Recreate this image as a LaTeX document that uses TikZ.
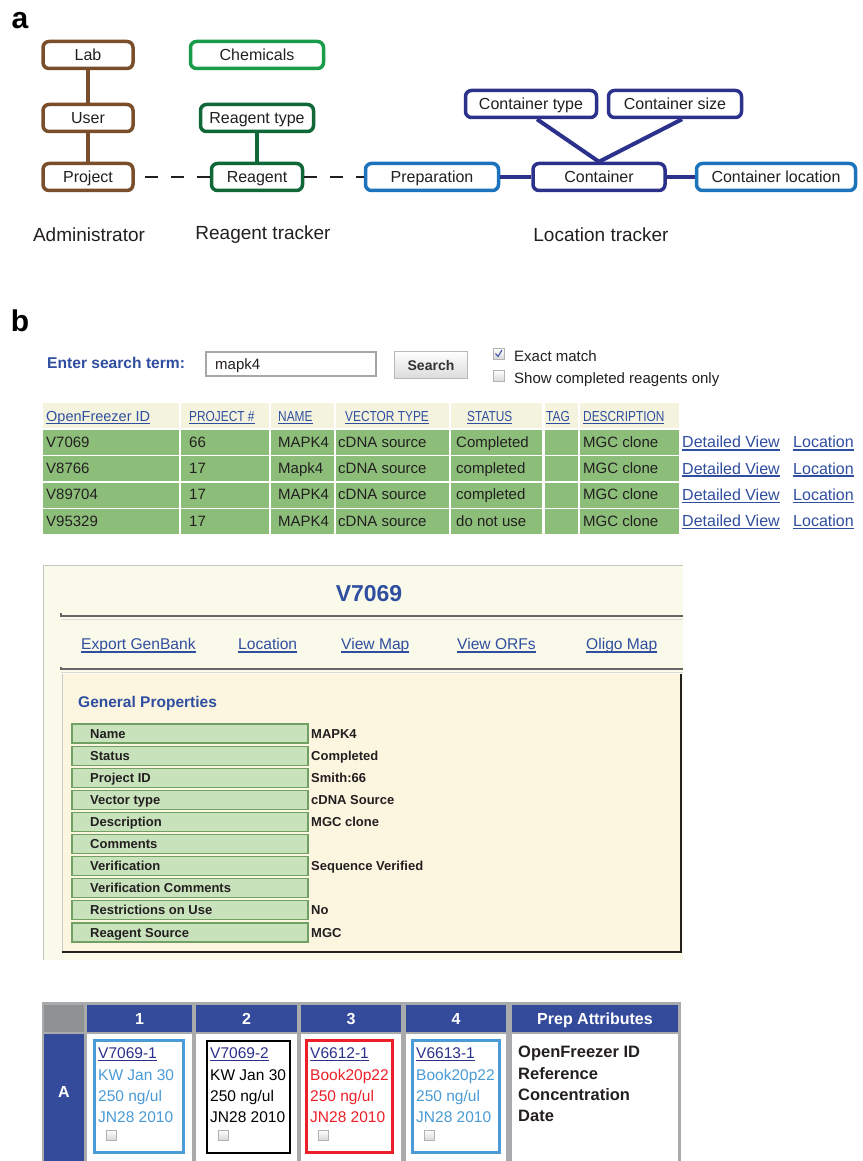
\documentclass[tikz,border=0pt]{standalone}
\usepackage{fontspec}
\setmainfont{Liberation Sans}
\newfontfamily\narrowfont[FakeStretch=0.82]{Liberation Sans}
\usetikzlibrary{calc}
\newcommand\fsz[1]{\fontsize{#1}{#1}\selectfont}
\newcommand\ulk[1]{\setbox0\hbox{#1}\rlap{\rule[-2.8pt]{\wd0}{1.5pt}}\box0}
\definecolor{brownc}{RGB}{122,78,42}
\definecolor{chemgreen}{RGB}{24,156,74}
\definecolor{dkgreen}{RGB}{16,104,56}
\definecolor{ltblue}{RGB}{28,117,188}
\definecolor{navyc}{RGB}{44,50,140}
\definecolor{txt}{RGB}{35,31,32}
\definecolor{linkblue}{RGB}{48,78,160}
\definecolor{rowgreen}{RGB}{140,190,122}
\definecolor{headcream}{RGB}{244,244,222}
\definecolor{panelbg}{RGB}{250,250,234}
\definecolor{innerbg}{RGB}{252,246,224}
\definecolor{propfill}{RGB}{200,227,188}
\definecolor{propline}{RGB}{112,160,100}
\definecolor{gridnavy}{RGB}{52,75,156}
\definecolor{gridgray}{RGB}{168,170,172}
\definecolor{wellblue}{RGB}{74,155,214}
\definecolor{wellred}{RGB}{236,32,40}
\tikzset{
  entity/.style={draw, line width=3.5pt, rounded corners=6pt, fill=white,
    minimum height=27pt, inner sep=0pt, font=\fsz{16}, text height=11.5pt,
    text depth=0pt, text=txt},
  tx/.style={inner sep=0pt, anchor=west, text depth=0pt},
  cellt/.style={tx, font=\fsz{15}, text height=10.7pt, text=txt},
  linkt/.style={tx, font=\fsz{16}, text height=11.4pt, text=linkblue},
  hdrt/.style={tx, font=\narrowfont\fsz{14.5}, text height=10.4pt, text=linkblue},
  propt/.style={tx, font=\bfseries\fsz{13}, text height=9.3pt, text=txt},
  wellt/.style={tx, font=\fsz{15.5}, text height=11.1pt},
  gridhd/.style={inner sep=0pt, font=\bfseries\fsz{16}, text height=11.5pt,
    text depth=0pt, text=white},
  chk/.style={draw=gray!60, line width=0.8pt, top color=white, bottom color=gray!30}
}
\begin{document}
\begin{tikzpicture}[x=1pt, y=-1pt]
  \useasboundingbox (0,0) rectangle (862,1161);
  \fill[white] (0,0) rectangle (862,1161);

  % panel a
  \node[font=\bfseries\fsz{30}, inner sep=0pt] (pa) at (20,21) {a};
  \node[entity, draw=brownc, minimum width=90pt] (lab) at (88,55) {Lab};
  \node[entity, draw=brownc, minimum width=90pt] (user) at (88,118) {User};
  \node[entity, draw=brownc, minimum width=90pt] (project) at (88,177) {Project};
  \node[entity, draw=chemgreen, minimum width=133pt] (chem) at (257,55) {Chemicals};
  \node[entity, draw=dkgreen, minimum width=113pt] (rtype) at (257,118) {Reagent type};
  \node[entity, draw=dkgreen, minimum width=91pt] (reagent) at (257,177) {Reagent};
  \node[entity, draw=ltblue, minimum width=133pt] (prep) at (432,177) {Preparation};
  \node[entity, draw=navyc, minimum width=131pt] (ctype) at (531,104) {Container type};
  \node[entity, draw=navyc, minimum width=133pt] (csize) at (675,104) {Container size};
  \node[entity, draw=navyc, minimum width=132pt] (cont) at (599,177) {Container};
  \node[entity, draw=ltblue, minimum width=159pt] (cloc) at (776,177) {Container location};

  \draw[brownc, line width=4pt] (lab) -- (user);
  \draw[brownc, line width=4pt] (user) -- (project);
  \draw[dkgreen, line width=4pt] (rtype) -- (reagent);
  \draw[txt, line width=2.8pt, dash pattern=on 13pt off 13pt, dash phase=16pt] (project) -- (reagent);
  \draw[txt, line width=2.8pt, dash pattern=on 13pt off 13pt] (reagent) -- (prep);
  \draw[navyc, line width=4pt] (prep) -- (cont);
  \draw[navyc, line width=4pt] (cont) -- (cloc);
  \draw[navyc, line width=4pt] ($(ctype.south)+(6,0)$) -- (cont.north);
  \draw[navyc, line width=4pt] ($(csize.south)+(7,0)$) -- (cont.north);

  \node[font=\fsz{19}, text=txt] (admin) at (89,235) {Administrator};
  \node[font=\fsz{19}, text=txt] (rtrack) at (263,235) {Reagent tracker};
  \node[font=\fsz{19}, text=txt] (ltrack) at (601,235) {Location tracker};

  % panel b: search
  \node[font=\bfseries\fsz{30}, inner sep=0pt] (pb) at (20,321) {b};
  \node[tx, font=\bfseries\fsz{15.6}, text height=11.2pt, text=linkblue] (enter) at (47,363) {Enter search term:};
  \draw[gray!70, line width=2pt, fill=white] (206,352) rectangle (376,376);
  \node[cellt] (term) at (215,364) {mapk4};
  \draw[gray!55, line width=1pt, top color=white, bottom color=gray!28] (394,351) rectangle (467,378);
  \node[font=\bfseries\fsz{14}, text=gray!40!black] (search) at (431,365) {Search};
  \draw[chk] (493,348) rectangle (504,359);
  \draw[linkblue, line width=1pt] (495.5,353.5) -- (498,356.5) -- (502,350);
  \draw[chk] (493,370) rectangle (504,381);
  \node[cellt] (exact) at (514,356) {Exact match};
  \node[cellt] (showc) at (514,378) {Show completed reagents only};

  % result table
  \foreach \xa/\xb in {43/179,181/269,271/334,336/449,451/542,545/578,580/679} {
    \fill[headcream] (\xa,403) rectangle (\xb,428);
    \foreach \ya in {430,456,483,509}
      \fill[rowgreen] (\xa,\ya) rectangle (\xb,\ya+25);
  }
  \node[hdrt, font=\fsz{14.5}] (h1) at (46,416) {\ulk{OpenFreezer ID}};
  \foreach \x/\t [count=\i from 2] in {189/PROJECT \#,278/NAME,345/VECTOR TYPE,467/STATUS,546/TAG,583/DESCRIPTION}
    \node[hdrt] (h\i) at (\x,416) {\ulk{\t}};
  \foreach \id/\pr/\nm/\st [count=\r] in {V7069/66/MAPK4/Completed,V8766/17/Mapk4/completed,V89704/17/MAPK4/completed,V95329/17/MAPK4/do not use} {
    \pgfmathsetmacro\yc{442+26.3*(\r-1)}
    \node[cellt] (id\r) at (46,\yc) {\id};
    \node[cellt] (pr\r) at (189,\yc) {\pr};
    \node[cellt] (nm\r) at (278,\yc) {\nm};
    \node[cellt] (vt\r) at (338,\yc) {cDNA source};
    \node[cellt] (st\r) at (456,\yc) {\st};
    \node[cellt] (ds\r) at (583,\yc) {MGC clone};
    \node[linkt] (dv\r) at (682,\yc) {\ulk{Detailed View}};
    \node[linkt] (lc\r) at (793,\yc) {\ulk{Location}};
  }

  % detail view
  \fill[panelbg] (43,565) rectangle (683,960);
  \draw[gray!45, line width=1pt] (43,960) -- (43,565) -- (683,565);
  \node[font=\bfseries\fsz{23}, text=linkblue] (title) at (369,594) {V7069};
  \draw[gray!80!black, line width=1.5pt] (61,613) -- (61,616) -- (683,616);
  \draw[gray!30, line width=1pt] (61,619) -- (683,619);
  \foreach \x/\t [count=\i] in {81/Export GenBank,238/Location,341/View Map,457/View ORFs,586/Oligo Map}
    \node[linkt, font=\fsz{15.6}] (lk\i) at (\x,644) {\ulk{\t}};
  \draw[gray!80!black, line width=1.5pt] (61,667) -- (61,669) -- (683,669);
  \draw[gray!30, line width=1pt] (61,672) -- (683,672);
  \fill[innerbg] (62,674) rectangle (681,952);
  \draw[gray!40, line width=1pt] (62,674) -- (62,952);
  \draw[txt, line width=1.3pt] (681,674) -- (681,952) -- (62,952);
  \node[tx, font=\bfseries\fsz{15.5}, text height=11.1pt, text=linkblue] (genp) at (78,702) {General Properties};
  \foreach \k/\v [count=\i] in {Name/MAPK4,Status/Completed,Project ID/Smith:66,Vector type/cDNA Source,Description/MGC clone,Comments/,Verification/Sequence Verified,Verification Comments/,Restrictions on Use/No,Reagent Source/MGC} {
    \pgfmathsetmacro\yt{724+22.1*(\i-1)}
    \draw[propline, fill=propfill, line width=1.2pt] (72,\yt) rectangle (308,\yt+19);
    \node[propt] (pk\i) at (90,\yt+9.5) {\k};
    \node[propt] (pv\i) at (311,\yt+9.5) {\v};
  }

  % storage grid
  \fill[gridgray] (42,1002) rectangle (681,1161);
  \fill[gridgray!85!black] (44,1005) rectangle (84,1032);
  \foreach \xa/\xb/\t [count=\i] in {87/192/1,196/297/2,301/401/3,406/506/4,512/678/Prep Attributes} {
    \fill[gridnavy] (\xa,1005) rectangle (\xb,1032);
    \fill[white] (\xa,1034) rectangle (\xb,1161);
    \node[gridhd] (gh\i) at ({(\xa+\xb)/2},1018.5) {\t};
  }
  \fill[gridnavy] (44,1034) rectangle (84,1161);
  \node[gridhd] (rowa) at (64,1092) {A};
  \foreach \xa/\xb/\col/\lw/\id/\rf [count=\i] in {93/185/wellblue/3/V7069-1/KW Jan 30,205/291/black/2/V7069-2/KW Jan 30,305/394/wellred/3/V6612-1/Book20p22,411/501/wellblue/3/V6613-1/Book20p22} {
    \draw[\col, line width=\lw pt] (\xa+1.5,1040.5) rectangle (\xb-1.5,1152.5);
    \node[wellt, text=navyc] (wid\i) at (\xa+5,1053) {\ulk{\id}};
    \node[wellt, text=\col] (wrf\i) at (\xa+5,1075) {\rf};
    \node[wellt, text=\col] (wcn\i) at (\xa+5,1096) {250 ng/ul};
    \node[wellt, text=\col] (wdt\i) at (\xa+5,1117) {JN28 2010};
    \draw[chk] (\xa+13,1130) rectangle (\xa+23,1140);
  }
  \foreach \t/\y [count=\i] in {OpenFreezer ID/1052,Reference/1074,Concentration/1095,Date/1116}
    \node[tx, font=\bfseries\fsz{16.5}, text height=11.8pt, text=txt] (pa\i) at (518,\y) {\t};
\end{tikzpicture}
\end{document}
